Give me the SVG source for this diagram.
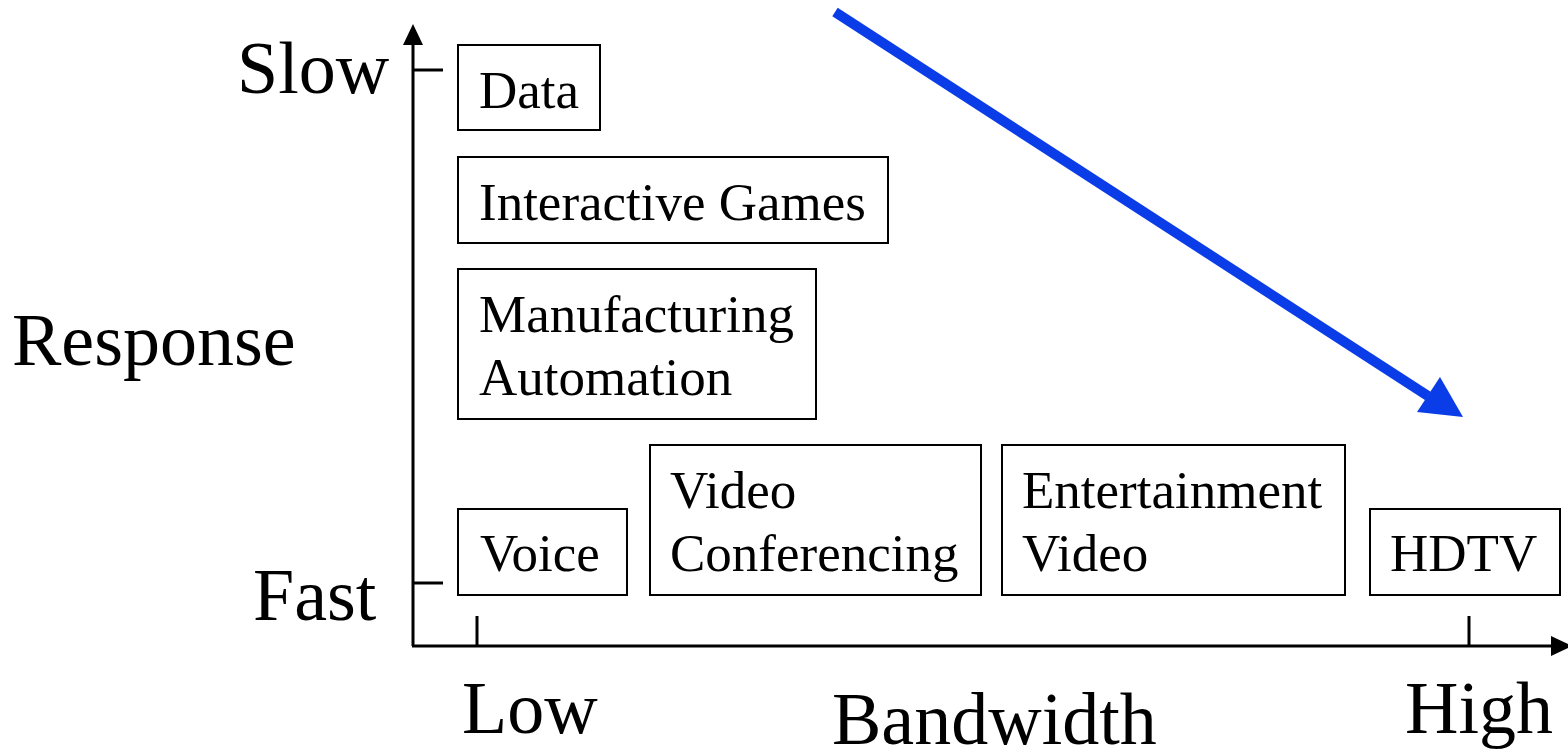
<svg xmlns="http://www.w3.org/2000/svg" width="1568" height="752" viewBox="0 0 1568 752">
<style>
.box{fill:#fff;stroke:#000;stroke-width:2}
.t{font-family:"Liberation Serif","Times New Roman",serif;font-size:53px;fill:#000}
.ax{font-family:"Liberation Serif","Times New Roman",serif;font-size:74px;fill:#000}
.axis{stroke:#000;stroke-width:3;fill:none}
</style>
<rect width="1568" height="752" fill="#fff"/>
<g id="axes">
<line class="axis" x1="413" y1="646" x2="413" y2="42"/>
<polygon points="403,45 413,24 423,45" fill="#000"/>
<line class="axis" x1="412" y1="646" x2="1552" y2="646"/>
<polygon points="1551,636 1572,646 1551,656" fill="#000"/>
<line class="axis" x1="413" y1="70" x2="443" y2="70"/>
<line class="axis" x1="413" y1="583" x2="443" y2="583"/>
<line class="axis" x1="477" y1="616" x2="477" y2="646"/>
<line class="axis" x1="1469" y1="616" x2="1469" y2="646"/>
<text class="ax" x="237" y="93">Slow</text>
<text class="ax" x="12" y="365">Response</text>
<text class="ax" x="253" y="620">Fast</text>
<text class="ax" x="462" y="733">Low</text>
<text class="ax" x="832" y="744">Bandwidth</text>
<text class="ax" x="1405" y="733">High</text>
</g>
<g id="data"><rect class="box" x="458" y="45" width="142" height="85"/><text class="t" x="479" y="108">Data</text></g>
<g id="games"><rect class="box" x="458" y="157" width="430" height="86"/><text class="t" x="479" y="220">Interactive Games</text></g>
<g id="manufacturing"><rect class="box" x="458" y="269" width="358" height="150"/><text class="t" x="479" y="332">Manufacturing</text><text class="t" x="479" y="395">Automation</text></g>
<g id="voice"><rect class="box" x="458" y="509" width="169" height="86"/><text class="t" x="480" y="571">Voice</text></g>
<g id="videoconf"><rect class="box" x="650" y="445" width="331" height="150"/><text class="t" x="670" y="508">Video</text><text class="t" x="670" y="571">Conferencing</text></g>
<g id="entertainment"><rect class="box" x="1002" y="445" width="343" height="150"/><text class="t" x="1022" y="508">Entertainment</text><text class="t" x="1022" y="571">Video</text></g>
<g id="hdtv"><rect class="box" x="1370" y="509" width="190" height="86"/><text class="t" x="1390" y="571">HDTV</text></g>
<g id="connectors">
<line x1="835" y1="12" x2="1428" y2="396" stroke="#0a3de8" stroke-width="10"/>
<polygon points="1463,417 1417,412 1440,377" fill="#0a3de8"/>
</g>
</svg>
